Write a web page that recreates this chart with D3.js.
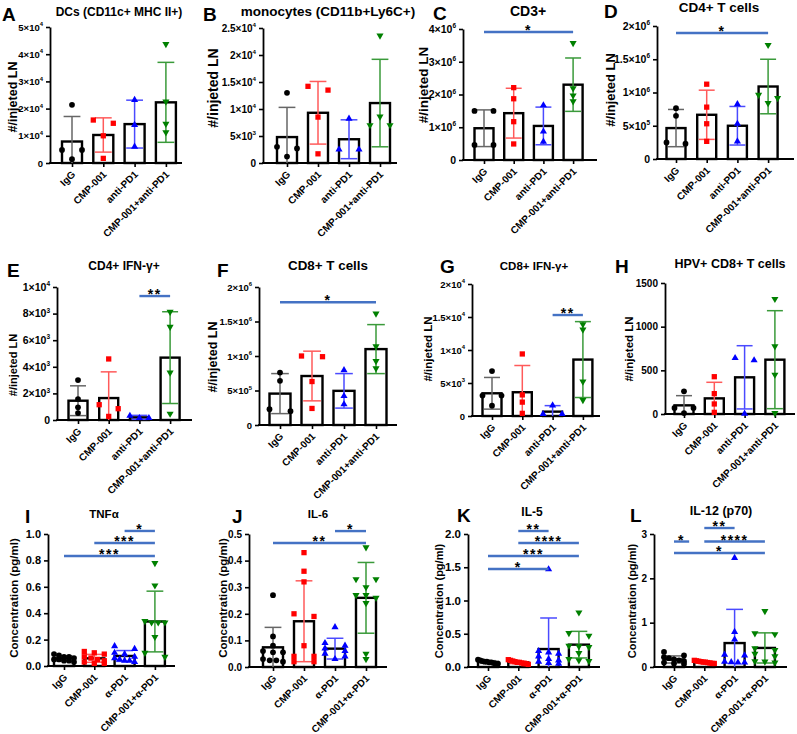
<!DOCTYPE html>
<html><head><meta charset="utf-8">
<script src="https://cdn.jsdelivr.net/npm/d3@7"></script>
<style>
body{margin:0;background:#fff}
svg{display:block}
text{font-family:"Liberation Sans",Arial,Helvetica,sans-serif;}
</style>
</head><body>
<svg id="c" width="797" height="734"></svg>
<script>
// ---------------- DATA ----------------
const groupsCells = ["IgG","CMP-001","anti-PD1","CMP-001+anti-PD1"];
const groupsCyto  = ["IgG","CMP-001","α-PD1","CMP-001+α-PD1"];
const yLabelCells = "#/injeted LN";
const yLabelCyto  = "Concentration (pg/ml)";
const panelLetters = ["A","B","C","D","E","F","G","H","I","J","K","L"];
const panelTitles = ["DCs (CD11c+ MHC II+)","monocytes (CD11b+Ly6C+)","CD3+","CD4+ T cells",
  "CD4+ IFN-γ+","CD8+ T cells","CD8+ IFN-γ+","HPV+ CD8+ T cells",
  "TNFα","IL-6","IL-5","IL-12 (p70)"];

// A
const pointsA = [[21400,4800,4800,1400],[14600,15800,10000,1700],[23200,14000,6000],[43700,22600,14400,11300]];
const meanA = [7900,10300,14300,22300];
const sdA = [9200,6300,8800,14700];
const ticksA = [0,10000,20000,30000,40000,50000];
const tickLabelsA = ["0","1×10^4","2×10^4","3×10^4","4×10^4","5×10^4"];
const sigA = [];
// B
const pointsB = [[13000,3000,2700,1200],[13500,14200,8500,1700],[8200,2500,2500],[23600,8600,7000,7000]];
const meanB = [4800,9300,4400,11100];
const sdB = [5500,5800,3600,8100];
const ticksB = [0,5000,10000,15000,20000,25000];
const tickLabelsB = ["0","5×10^3","1×10^4","1.5×10^4","2×10^4","2.5×10^4"];
const sigB = [];
// C
const pointsC = [[1500000,1500000,460000,460000],[2210000,1870000,1170000,490000],[1670000,870000,560000],[3570000,2190000,1970000,1790000]];
const meanC = [970000,1430000,1040000,2300000];
const sdC = [560000,760000,575000,815000];
const ticksC = [0,1e6,2e6,3e6,4e6];
const tickLabelsC = ["0","1×10^6","2×10^6","3×10^6","4×10^6"];
const sigC = [[0,3,3.91e6,"*"]];
// D
const pointsD = [[765000,650000,230000,250000],[1125000,780000,530000,265000],[825000,530000,265000],[1715000,965000,915000,840000]];
const meanD = [465000,665000,500000,1090000];
const sdD = [280000,370000,290000,410000];
const ticksD = [0,5e5,1e6,1.5e6,2e6];
const tickLabelsD = ["0","5×10^5","1×10^6","1.5×10^6","2×10^6"];
const sigD = [[0,3,1.895e6,"*"]];
// E
const pointsE = [[3000,1570,950,520],[4590,1150,850,270],[320,150,150],[8130,7000,3570,470]];
const meanE = [1450,1650,200,4690];
const sdE = [1120,1970,150,3450];
const ticksE = [0,2000,4000,6000,8000,10000];
const tickLabelsE = ["0","2×10^3","4×10^3","6×10^3","8×10^3","1×10^4"];
const sigE = [[2,3,9320,"**"]];
// F
const pointsF = [[760000,640000,200000,230000],[990000,1000000,630000,240000],[795000,420000,300000],[1615000,1140000,925000,820000]];
const meanF = [455000,710000,495000,1100000];
const sdF = [290000,360000,250000,355000];
const ticksF = [0,5e5,1e6,1.5e6,2e6];
const tickLabelsF = ["0","5×10^5","1×10^6","1.5×10^6","2×10^6"];
const sigF = [[0,3,1.78e6,"*"]];
// G
const pointsG = [[6800,3100,3100,1570],[9400,3200,2100,400],[1600,300,300],[13900,13100,5200,2400]];
const meanG = [3440,3600,660,8550];
const sdG = [2400,4050,910,5750];
const ticksG = [0,5000,10000,15000,20000];
const tickLabelsG = ["0","5×10^3","1×10^4","1.5×10^4","2×10^4"];
const sigG = [[2,3,15300,"**"]];
// H
const pointsH = [[260,69,69,11],[427,233,115,19],[641,615,4],[1317,775,450,11]];
const meanH = [99,179,420,622];
const sdH = [111,184,362,561];
const ticksH = [0,500,1000,1500];
const tickLabelsH = ["0","500","1000","1500"];
const sigH = [];
// I  TNFa
const pointsI = [[0.09,0.08,0.07,0.07,0.06,0.05,0.05,0.04,0.04,0.03],
                 [0.11,0.10,0.09,0.07,0.06,0.05,0.04,0.03,0.02,0.02],
                 [0.15,0.13,0.10,0.09,0.07,0.06,0.05,0.04,0.04,0.03],
                 [0.78,0.61,0.34,0.33,0.33,0.33,0.22,0.10,0.07]];
const meanI = [0.058,0.058,0.076,0.337];
const sdI = [0.02,0.03,0.041,0.23];
const ticksI = [0,0.2,0.4,0.6,0.8,1.0];
const tickLabelsI = ["0.0","0.2","0.4","0.6","0.8","1.0"];
const sigI = [[2,3,1.023,"*"],[1,3,0.932,"***"],[0,3,0.833,"***"]];
// J  IL-6
const pointsJ = [[0.27,0.115,0.08,0.06,0.055,0.055,0.03,0.025,0.025,0.02],
                 [0.43,0.36,0.32,0.20,0.19,0.08,0.04,0.04,0.02,0.02],
                 [0.15,0.09,0.08,0.07,0.06,0.05,0.04,0.03],
                 [0.45,0.33,0.33,0.30,0.27,0.27,0.26,0.24,0.05,0.03]];
const meanJ = [0.074,0.172,0.069,0.26];
const sdJ = [0.075,0.152,0.039,0.133];
const ticksJ = [0,0.1,0.2,0.3,0.4,0.5];
const tickLabelsJ = ["0.0","0.1","0.2","0.3","0.4","0.5"];
const sigJ = [[2,3,0.511,"*"],[0,3,0.466,"**"]];
// K  IL-5
const pointsK = [[0.11,0.10,0.09,0.08,0.08,0.07,0.07,0.06,0.05,0.05],
                 [0.11,0.10,0.09,0.08,0.07,0.07,0.06,0.05,0.05,0.04],
                 [1.47,0.24,0.22,0.20,0.16,0.12,0.10,0.08,0.06,0.05],
                 [0.82,0.51,0.47,0.32,0.31,0.30,0.21,0.12,0.10,0.09]];
const meanK = [0.075,0.07,0.27,0.336];
const sdK = [0.02,0.02,0.467,0.2];
const ticksK = [0,0.5,1.0,1.5,2.0];
const tickLabelsK = ["0.0","0.5","1.0","1.5","2.0"];
const sigK = [[1,2,2.045,"**"],[1,3,1.865,"****"],[0,3,1.669,"***"],[0,2,1.474,"*"]];
// L  IL-12 (p70)
const pointsL = [[0.34,0.26,0.22,0.20,0.17,0.15,0.13,0.10,0.08,0.07],
                 [0.15,0.14,0.13,0.12,0.11,0.11,0.10,0.09,0.08,0.08],
                 [2.46,0.79,0.62,0.28,0.26,0.12,0.11,0.10,0.10],
                 [1.26,0.76,0.74,0.42,0.38,0.30,0.24,0.13,0.12,0.10]];
const meanL = [0.17,0.11,0.54,0.43];
const sdL = [0.08,0.02,0.76,0.34];
const ticksL = [0,1,2,3];
const tickLabelsL = ["0","1","2","3"];
const sigL = [[1,2,3.135,"**"],[0,0.5,2.83,"*"],[1,3,2.83,"****"],[0,3,2.57,"*"]];

// ---------------- STYLE / LAYOUT ----------------
const groupColors = ["#000000","#ff0000","#0000ff","#008000"];
const errColors   = ["#666666","#ff5a5a","#4a4aff","#3a9a3a"];
const groupShapes = ["circle","square","triangle","triangleDown"];
const sigColor = "#4472c4";

const layout = [
 {ax:50, xEnd:182,yTop:27, y0:163,c0:72, step:31.3,bw:20,tick:9.5, lab:[13,97,12.5], title:[119,16,12],  letter:[2,21]},
 {ax:263,xEnd:397,yTop:28, y0:163,c0:287,step:31,  bw:20,tick:10,  lab:[213,88,14],   title:[328,16,13.5],letter:[203,21]},
 {ax:463,xEnd:597,yTop:29, y0:160,c0:484,step:29.7,bw:19,tick:10.5,lab:[423,85,13.5], title:[528,16,14],  letter:[433,20]},
 {ax:657,xEnd:794,yTop:26, y0:159,c0:676,step:30.7,bw:19,tick:10.5,lab:[610,90,13],   title:[719,12,13.5],letter:[604,18]},
 {ax:57, xEnd:192,yTop:287,y0:420,c0:78, step:30.7,bw:19,tick:10.5,lab:[13,365,11],   title:[124,270,12],  letter:[7,277]},
 {ax:259,xEnd:397,yTop:287,y0:425,c0:280,step:32,  bw:21,tick:9.5, lab:[213,357,12.5],title:[328,270,13.4],letter:[217,277]},
 {ax:472,xEnd:600,yTop:284,y0:416,c0:492,step:30.3,bw:19,tick:9.5, lab:[428,349,11.5],title:[534,270,11.5],letter:[440,273]},
 {ax:665,xEnd:795,yTop:283,y0:414,c0:684,step:30.3,bw:19,tick:10,  lab:[629,349,11.5],title:[730,268,12.5],letter:[615,273]},
 {ax:48, xEnd:175,yTop:534,y0:666,c0:64, step:30.3,bw:20,tick:11,  lab:[14,598,11.5], title:[104,518,11.5],letter:[25,523]},
 {ax:249,xEnd:387,yTop:534,y0:667,c0:273,step:31,  bw:20,tick:10,  lab:[223,598,11.5],title:[318,518,11.5],letter:[232,523]},
 {ax:468,xEnd:600,yTop:534,y0:667,c0:488,step:30.3,bw:20,tick:11.5,lab:[439,601,11],  title:[532,516,12],  letter:[457,522]},
 {ax:654,xEnd:787,yTop:534,y0:667,c0:674,step:30.3,bw:20,tick:10,  lab:[632,601,11],  title:[721,515,12.5],letter:[630,522]},
];

const panels = [
 {pts:pointsA,mean:meanA,sd:sdA,ticks:ticksA,tl:tickLabelsA,sig:sigA},
 {pts:pointsB,mean:meanB,sd:sdB,ticks:ticksB,tl:tickLabelsB,sig:sigB},
 {pts:pointsC,mean:meanC,sd:sdC,ticks:ticksC,tl:tickLabelsC,sig:sigC},
 {pts:pointsD,mean:meanD,sd:sdD,ticks:ticksD,tl:tickLabelsD,sig:sigD},
 {pts:pointsE,mean:meanE,sd:sdE,ticks:ticksE,tl:tickLabelsE,sig:sigE},
 {pts:pointsF,mean:meanF,sd:sdF,ticks:ticksF,tl:tickLabelsF,sig:sigF},
 {pts:pointsG,mean:meanG,sd:sdG,ticks:ticksG,tl:tickLabelsG,sig:sigG},
 {pts:pointsH,mean:meanH,sd:sdH,ticks:ticksH,tl:tickLabelsH,sig:sigH},
 {pts:pointsI,mean:meanI,sd:sdI,ticks:ticksI,tl:tickLabelsI,sig:sigI},
 {pts:pointsJ,mean:meanJ,sd:sdJ,ticks:ticksJ,tl:tickLabelsJ,sig:sigJ},
 {pts:pointsK,mean:meanK,sd:sdK,ticks:ticksK,tl:tickLabelsK,sig:sigK},
 {pts:pointsL,mean:meanL,sd:sdL,ticks:ticksL,tl:tickLabelsL,sig:sigL},
];

// ---------------- DRAW ----------------
const svg = d3.select("#c");

const symbolFor = {
  circle: d3.symbol().type(d3.symbolCircle).size(26),
  square: d3.symbol().type(d3.symbolSquare).size(28),
  triangle: d3.symbol().type(d3.symbolTriangle).size(22),
  triangleDown: d3.symbol().type(d3.symbolTriangle).size(22)
};

function swarm(vals, y, bw, tol){
  const items = vals.map(v => ({v, py: y(v)})).sort((a,b) => a.py - b.py);
  const rows = [];
  items.forEach(it => {
    const r = rows[rows.length-1];
    if (r && it.py - r[0].py < tol) r.push(it); else rows.push([it]);
  });
  rows.forEach(r => {
    const n = r.length;
    r.forEach((it,k) => { it.dx = n === 1 ? 0 : -bw/2 + k*bw/(n-1); });
  });
  return items;
}

function drawPanel(idx){
  const p = panels[idx], L = layout[idx];
  const groups = idx < 8 ? groupsCells : groupsCyto;
  const g = svg.append("g");
  const x = d3.scalePoint().domain(groups).range([L.c0, L.c0 + 3*L.step]);
  const y = d3.scaleLinear().domain([0, d3.max(p.ticks)]).range([L.y0, L.yTop]);
  const xi = i => x(groups[0]) + i * x.step();

  // y axis
  const yAx = g.append("g").attr("transform", `translate(${L.ax},0)`)
    .call(d3.axisLeft(y).tickValues(p.ticks).tickSize(4).tickSizeOuter(0).tickFormat((d,i) => p.tl[i]));
  yAx.select(".domain").attr("stroke","#000").attr("stroke-width",1.8);
  yAx.selectAll(".tick line").attr("stroke","#000").attr("stroke-width",1.6);
  yAx.selectAll(".tick text").each(function(d,i){
    const t = d3.select(this);
    const s = p.tl[i];
    t.text(null).attr("font-family",null).attr("fill","#000")
      .style("font-size", L.tick + "px").style("font-weight","bold");
    const parts = s.split("^");
    t.append("tspan").text(parts[0]);
    if (parts.length > 1) {
      t.append("tspan").text(parts[1]).style("font-size",(L.tick*0.62)+"px").attr("dy", -L.tick*0.45);
    }
  });
  yAx.attr("font-family",null).attr("font-size",null);

  // x axis line + ticks
  g.append("line").attr("x1",L.ax - 0.9).attr("x2",L.xEnd).attr("y1",L.y0).attr("y2",L.y0)
    .attr("stroke","#000").attr("stroke-width",1.8);
  const xAx = g.append("g").attr("transform",`translate(0,${L.y0})`)
    .call(d3.axisBottom(x).tickSize(4).tickSizeOuter(0).tickFormat(""));
  xAx.select(".domain").remove();
  xAx.selectAll(".tick line").attr("stroke","#000").attr("stroke-width",1.6);
  g.selectAll("text.xl").data(groups).join("text").attr("class","xl")
    .attr("transform", d => `translate(${x(d)+4},${L.y0+12}) rotate(-45)`)
    .attr("text-anchor","end").style("font-size","10px").style("font-weight","bold")
    .text(d => d);

  // bars
  g.selectAll("rect.bar").data(p.mean).join("rect").attr("class","bar")
    .attr("x", (d,i) => x(groups[i]) - L.bw/2)
    .attr("y", d => y(d))
    .attr("width", L.bw)
    .attr("height", d => L.y0 - y(d))
    .attr("fill","#fff").attr("stroke","#000").attr("stroke-width",2.4);

  // error bars
  p.mean.forEach((m,i) => {
    const s = p.sd[i], cx = x(groups[i]), cw = L.bw*0.42;
    const hi = y(m + s), lo = y(Math.max(0, m - s));
    const eg = g.append("g").attr("stroke", errColors[i]).attr("stroke-width",1.5);
    eg.append("line").attr("x1",cx).attr("x2",cx).attr("y1",hi).attr("y2",lo);
    eg.append("line").attr("x1",cx-cw).attr("x2",cx+cw).attr("y1",hi).attr("y2",hi);
    if (m - s > 0) eg.append("line").attr("x1",cx-cw).attr("x2",cx+cw).attr("y1",lo).attr("y2",lo);
  });

  // points
  p.pts.forEach((vals,i) => {
    const items = swarm(vals, y, L.bw, 5);
    const shape = groupShapes[i];
    g.selectAll(null).data(items).join("path")
      .attr("d", symbolFor[shape]())
      .attr("transform", d => `translate(${x(groups[i]) + d.dx},${d.py})` + (shape === "triangleDown" ? " rotate(180)" : ""))
      .attr("fill", groupColors[i]);
  });

  // significance
  p.sig.forEach(s => {
    const x1 = xi(s[0]), x2 = xi(s[1]), yy = y(s[2]);
    g.append("line").attr("x1",x1).attr("x2",x2).attr("y1",yy).attr("y2",yy)
      .attr("stroke",sigColor).attr("stroke-width",2.4);
    g.append("text").attr("x",(x1+x2)/2).attr("y",yy+3).attr("text-anchor","middle")
      .style("font-size","14px").style("font-weight","bold").style("letter-spacing","1.5px")
      .text(s[3]);
  });

  // y label
  g.append("text").attr("transform",`translate(${L.lab[0]},${L.lab[1]}) rotate(-90)`)
    .attr("text-anchor","middle").attr("dy","0.35em")
    .style("font-size",L.lab[2]+"px").style("font-weight","bold")
    .text(idx < 8 ? yLabelCells : yLabelCyto);

  // title
  g.append("text").attr("x",L.title[0]).attr("y",L.title[1]).attr("text-anchor","middle")
    .style("font-size",L.title[2]+"px").style("font-weight","bold").text(panelTitles[idx]);

  // letter
  g.append("text").attr("x",L.letter[0]).attr("y",L.letter[1])
    .style("font-size","19px").style("font-weight","bold").text(panelLetters[idx]);
}

for (let i = 0; i < 12; i++) drawPanel(i);
</script>
</body></html>
